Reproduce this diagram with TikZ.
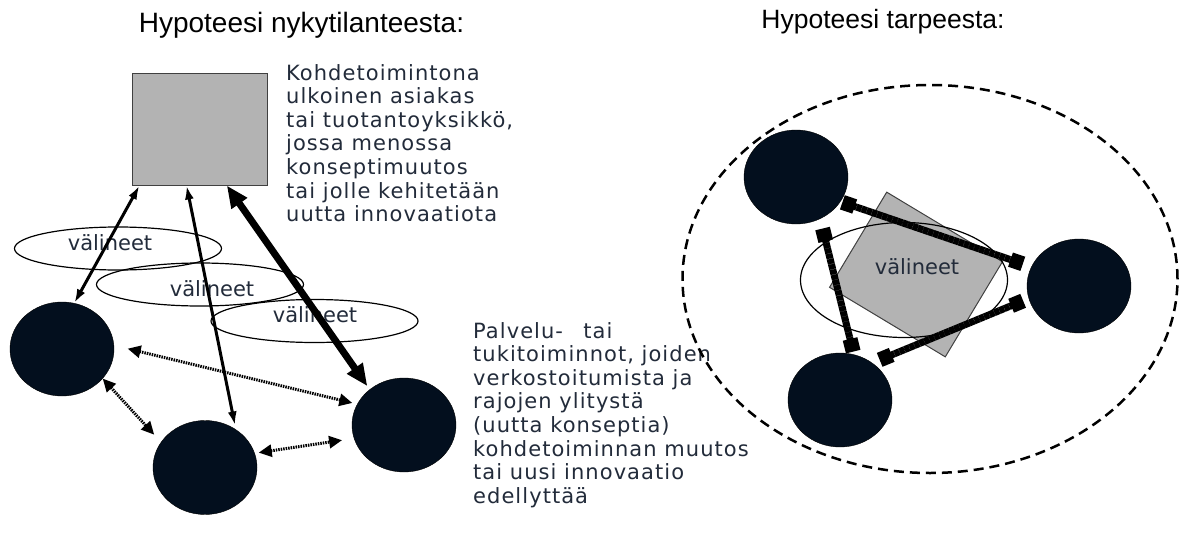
\documentclass[tikz,border=0pt]{standalone}
\usepackage{fontspec}
\setmainfont{Liberation Sans}
\newfontfamily\bodyfont[LetterSpace=5]{DejaVu Sans}
\newfontfamily\toolfont{DejaVu Sans}
\usetikzlibrary{arrows.meta,shapes.geometric}
\definecolor{nodenavy}{HTML}{030F1E}
\definecolor{textnavy}{HTML}{222B3A}
\definecolor{boxgray}{HTML}{B3B3B3}

\tikzset{
  unit/.style={ellipse,draw=black,fill=nodenavy,minimum width=104pt,minimum height=94pt,inner sep=0pt},
  target/.style={rectangle,draw=black!75,line width=1pt,fill=boxgray,minimum width=135pt,minimum height=111pt,inner sep=0pt},
  tools/.style={ellipse,draw=black,line width=1.2pt,minimum width=207pt,minimum height=43pt,inner sep=0pt},
  toollabel/.style={font=\toolfont\fontsize{21}{24}\selectfont,text=textnavy,inner sep=0pt},
  note/.style={font=\bodyfont\fontsize{21}{23.6}\selectfont,text=textnavy,align=left,inner sep=0pt,anchor=north west},
  heading/.style={font=\fontsize{28}{32}\selectfont,inner sep=0pt,anchor=base},
  link/.style={line width=3pt,{Latex[length=14pt,width=9pt]}-{Latex[length=14pt,width=9pt]}},
  biglink/.style={line width=7pt,{Triangle[length=22pt,width=18pt]}-{Triangle[length=22pt,width=18pt]}},
  peer/.style={line width=3pt,dash pattern=on 1.5pt off 1pt,{Triangle[length=13pt,width=12pt]}-{Triangle[length=13pt,width=12pt]}},
  mesh/.style={line width=7pt,dash pattern=on 5pt off 0.4pt,{Square[length=13pt,width=15pt]}-{Square[length=13pt,width=15pt]}},
  zone/.style={ellipse,draw=black,line width=2.5pt,dash pattern=on 10pt off 6pt,minimum width=495pt,minimum height=388pt,inner sep=0pt}
}

\begin{document}
\begin{tikzpicture}[x=1pt,y=-1pt]
\useasboundingbox (0,0) rectangle (1181,535);

% headings
\node[heading] (head1) at (301.5,33) {Hypoteesi nykytilanteesta:};
\node[heading,font=\fontsize{26.5}{30}\selectfont] (head2) at (883,29) {Hypoteesi tarpeesta:};

% current situation
\node[target] (sq) at (199.5,129.5) {};
\node[note] (sqnote) at (286,64) {Kohdetoimintona\\ulkoinen asiakas\\tai tuotantoyksikkö,\\jossa menossa\\konseptimuutos\\tai jolle kehitetään\\uutta innovaatiota};

\node[tools] (e1) at (118,248.5) {};
\node[tools] (e2) at (200,284.5) {};
\node[tools] (e3) at (314.5,321) {};
\node[toollabel] (e1lab) at (110,243) {välineet};
\node[toollabel] (e2lab) at (212,289) {välineet};
\node[toollabel] (e3lab) at (315,315) {välineet};

\node[unit] (c1) at (62,349) {};
\node[unit] (c2) at (205,467.5) {};
\node[unit] (c3) at (404,425) {};
\node[note] (c3note) at (473,322) {Palvelu-\hspace{0.6em} tai\\tukitoiminnot, joiden\\verkostoitumista ja\\rajojen ylitystä\\(uutta konseptia)\\kohdetoiminnan muutos\\tai uusi innovaatio\\edellyttää};

\draw[link] (sq.-137) -- (c1.75);
\draw[link,shorten >=4pt] (sq.-103) -- (c2.51);
\draw[biglink,shorten >=4pt] (sq.-64) -- (c3.134);
\draw[peer,shorten <=14pt,shorten >=5pt] (c1.4) -- (c3.156);
\draw[peer,shorten >=10pt] (c1.-36) -- (c2.150);
\draw[peer,shorten <=4pt,shorten >=12pt] (c2.16) -- (c3.195);

% needed situation
\node[zone] (net) at (930,279) {};
\node[target,rotate=-31] (sq2) at (916,274.5) {};
\node[tools,minimum height=115pt] (e4) at (904,280) {};
\node[toollabel] (e4lab) at (917,267) {välineet};

\node[unit] (t1) at (796,177) {};
\node[unit] (r1) at (1079,286) {};
\node[unit] (b1) at (840,400) {};

\draw[mesh,shorten <=2pt,shorten >=9pt] (t1.-29) -- (r1.158);
\draw[mesh,shorten <=6pt,shorten >=8pt] (r1.194) -- (b1.49);
\draw[mesh,shorten <=10pt,shorten >=3pt] (t1.-60) -- (b1.73);
\end{tikzpicture}
\end{document}
